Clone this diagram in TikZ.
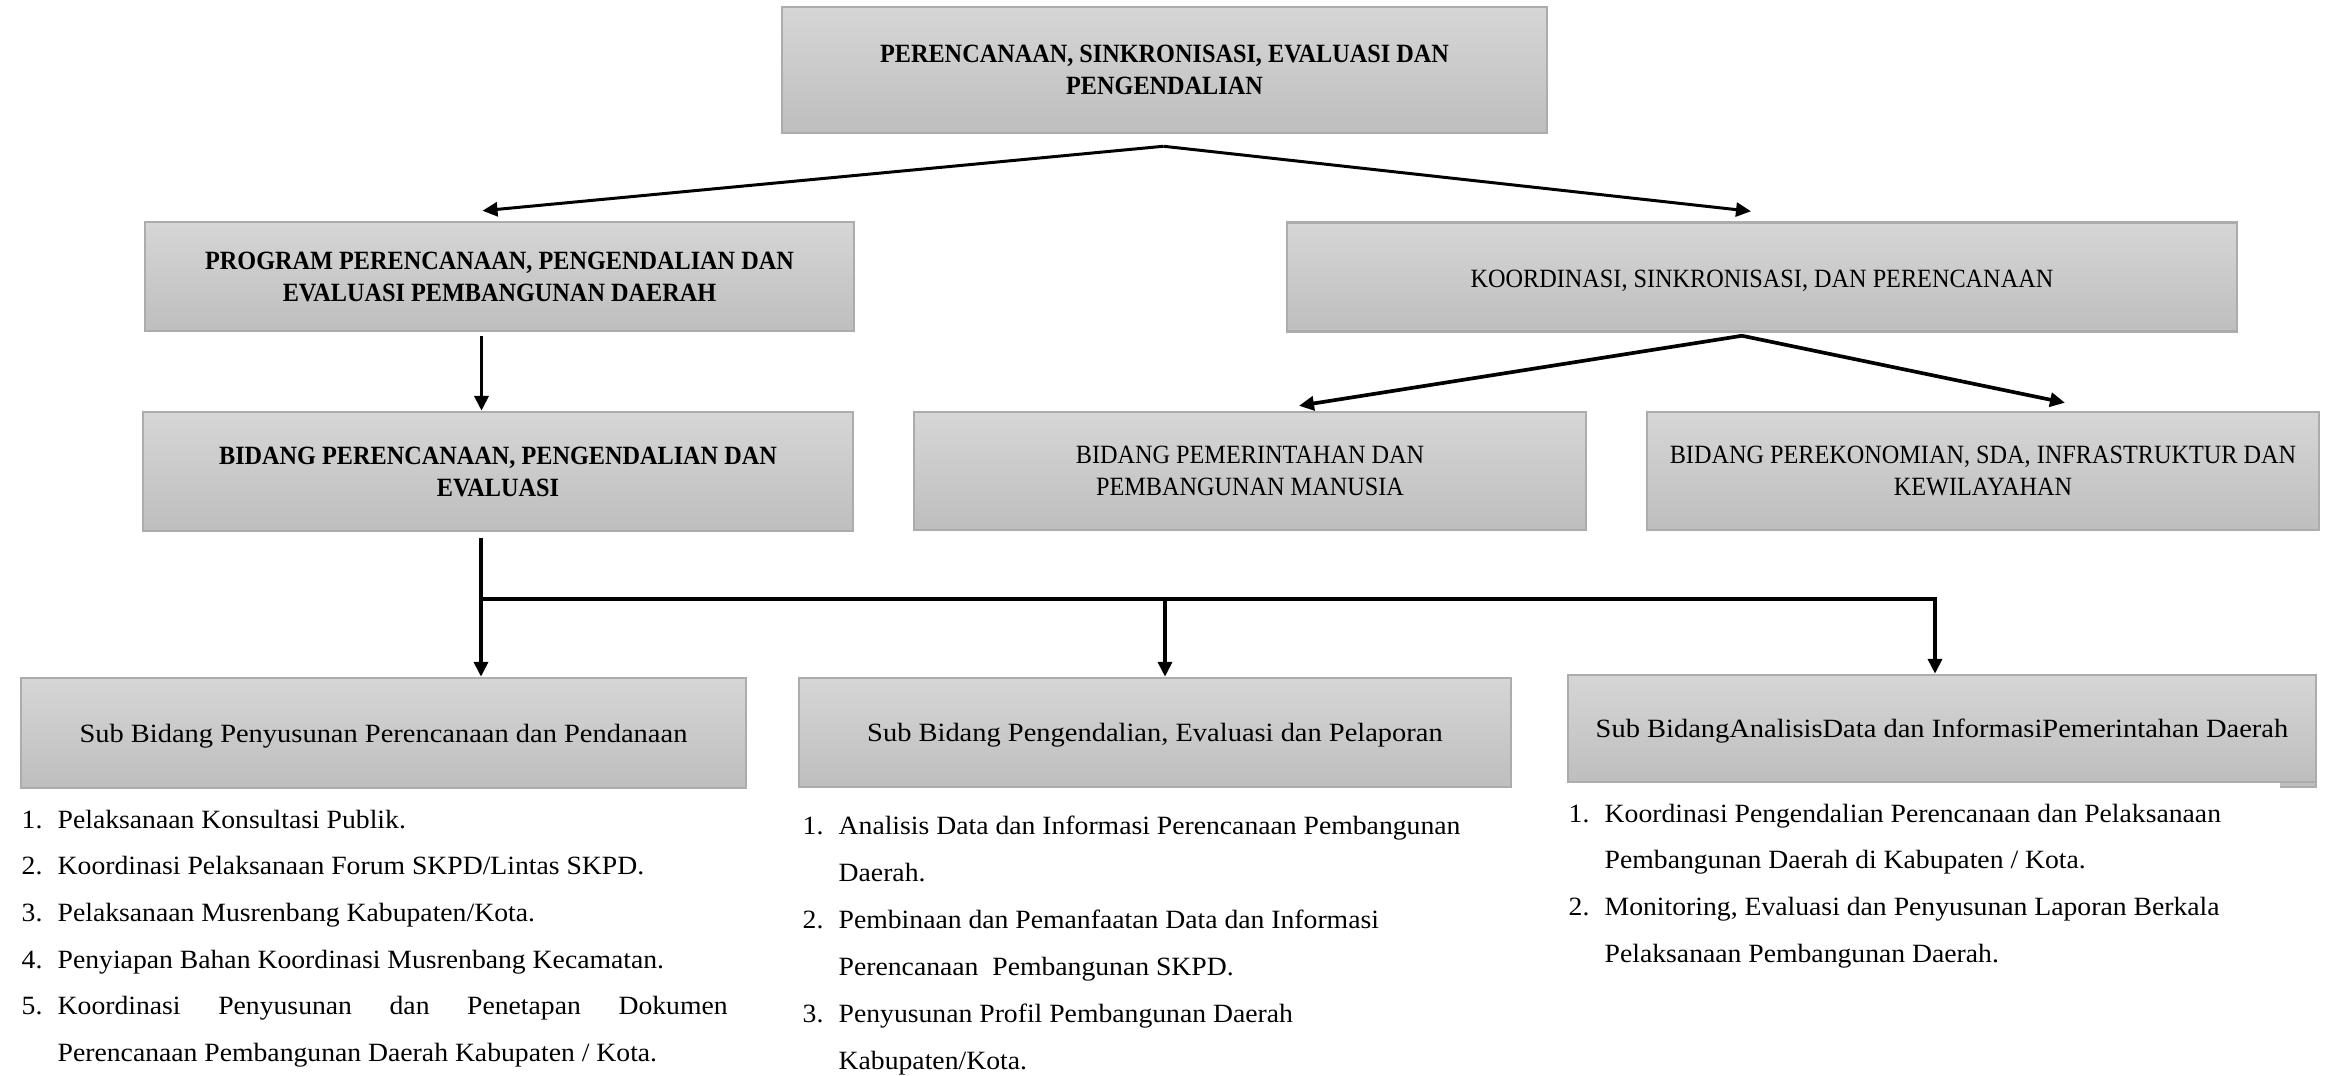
\documentclass[tikz,border=0pt]{standalone}
\usepackage{fontspec}
\setmainfont{Liberation Serif}
% caps titles run narrow, running text runs wide
\newfontfamily\capsface{Liberation Serif}[FakeStretch=0.92]
\newfontfamily\textface{Liberation Serif}[FakeStretch=1.08]
\newfontfamily\listface{Liberation Serif}[FakeStretch=1.05]
\usetikzlibrary{arrows.meta,calc}

\newcommand\itemno[1]{\makebox[3.6mm][l]{#1}}
\newcommand\itemcont{\hspace*{3.6mm}}

\definecolor{boxedge}{RGB}{172,172,172}
\definecolor{boxtop}{RGB}{214,214,214}
\definecolor{boxbottom}{RGB}{190,190,190}

\begin{document}
\begin{tikzpicture}[x=0.1mm,y=-0.1mm,
  box/.style={draw=boxedge, line width=0.25mm,
    top color=boxtop, bottom color=boxbottom,
    inner sep=0pt, align=center,
    execute at begin node={\rule{0pt}{7pt}}},
  capreg/.style={box, font=\capsface\fontsize{7.5}{9.1}\selectfont},
  capbold/.style={box, font=\capsface\bfseries\fontsize{7.5}{9.1}\selectfont},
  subbox/.style={box, font=\textface\fontsize{7.5}{9.1}\selectfont},
  listnode/.style={inner sep=0pt, anchor=base west},
  arr/.style={line width=0.85pt, -{Triangle[length=1.5mm,width=1.4mm]}},
  arrthick/.style={line width=1.05pt, -{Triangle[length=1.5mm,width=1.4mm]}},
  busline/.style={line width=1.05pt}]

\useasboundingbox (0,0) rectangle (2341,1075);

% level 0
\node[capbold, minimum width=76.5mm, minimum height=12.6mm] (top) at (1164.5,70)
  {PERENCANAAN, SINKRONISASI, EVALUASI DAN\\PENGENDALIAN};

% level 1
\node[capbold, minimum width=70.9mm, minimum height=10.9mm] (prog) at (499.5,276.5)
  {PROGRAM PERENCANAAN, PENGENDALIAN DAN\\EVALUASI PEMBANGUNAN DAERAH};
\node[capreg, minimum width=95mm, minimum height=10.9mm] (koor) at (1762,277)
  {KOORDINASI, SINKRONISASI, DAN PERENCANAAN};

% level 2
\node[capbold, minimum width=71mm, minimum height=11.9mm] (bid) at (498,471.5)
  {BIDANG PERENCANAAN, PENGENDALIAN DAN\\EVALUASI};
\node[capreg, minimum width=67.2mm, minimum height=11.8mm] (pem) at (1250,471)
  {BIDANG PEMERINTAHAN DAN\\PEMBANGUNAN MANUSIA};
\node[capreg, minimum width=67.2mm, minimum height=11.8mm] (eko) at (1983,471)
  {BIDANG PEREKONOMIAN, SDA, INFRASTRUKTUR DAN\\KEWILAYAHAN};

% level 3
\node[subbox, minimum width=72.5mm, minimum height=11mm] (sub1) at (383.5,733)
  {Sub Bidang Penyusunan Perencanaan dan Pendanaan};
\node[subbox, minimum width=71.2mm, minimum height=10.9mm] (sub2) at (1155,732.5)
  {Sub Bidang Pengendalian, Evaluasi dan Pelaporan};
% small step under the right end of the third box
\fill[boxbottom] (2280,780) rectangle (2316,787);
\draw[boxedge, line width=0.25mm] (2280,787) -- (2316,787) -- (2316,780);
\node[subbox, minimum width=74.8mm, minimum height=10.7mm] (sub3) at (1942,728.5)
  {Sub BidangAnalisisData dan InformasiPemerintahan Daerah};

% task lists
\node[listnode, font=\listface\fontsize{7.5}{13.3}\selectfont] (list1) at (21,828)
  {\begin{tabular}[t]{@{}l@{}}
   \itemno{1.}Pelaksanaan Konsultasi Publik.\\
   \itemno{2.}Koordinasi Pelaksanaan Forum SKPD/Lintas SKPD.\\
   \itemno{3.}Pelaksanaan Musrenbang Kabupaten/Kota.\\
   \itemno{4.}Penyiapan Bahan Koordinasi Musrenbang Kecamatan.\\
   \itemno{5.}\makebox[67mm][s]{Koordinasi Penyusunan dan Penetapan Dokumen}\\
   \itemcont Perencanaan Pembangunan Daerah Kabupaten / Kota.
   \end{tabular}};
\node[listnode, font=\listface\fontsize{7.5}{13.4}\selectfont] (list2) at (802,834)
  {\begin{tabular}[t]{@{}l@{}}
   \itemno{1.}Analisis Data dan Informasi Perencanaan Pembangunan\\
   \itemcont Daerah.\\
   \itemno{2.}Pembinaan dan Pemanfaatan Data dan Informasi\\
   \itemcont Perencanaan~ Pembangunan SKPD.\\
   \itemno{3.}Penyusunan Profil Pembangunan Daerah\\
   \itemcont Kabupaten/Kota.
   \end{tabular}};
\node[listnode, font=\listface\fontsize{7.5}{13.3}\selectfont] (list3) at (1568,822)
  {\begin{tabular}[t]{@{}l@{}}
   \itemno{1.}Koordinasi Pengendalian Perencanaan dan Pelaksanaan\\
   \itemcont Pembangunan Daerah di Kabupaten / Kota.\\
   \itemno{2.}Monitoring, Evaluasi dan Penyusunan Laporan Berkala\\
   \itemcont Pelaksanaan Pembangunan Daerah.
   \end{tabular}};

% connectors: top to level 1
\coordinate (topfork) at ($(top.south)+(-1,12)$);
\coordinate (progin) at ($(prog.north)+(-17,-10)$);
\coordinate (koorin) at ($(koor.north)+(-11,-10)$);
\draw[arr] (topfork) -- (progin);
\draw[arr] (topfork) -- (koorin);

% program to bidang
\coordinate (progout) at ($(prog.south)+(-18,4)$);
\draw[arrthick] (progout) -- (progout |- bid.north);

% koordinasi fork
\coordinate (koorfork) at ($(koor.south)+(-20,3)$);
\coordinate (pemin) at ($(pem.north)+(49,-5)$);
\coordinate (ekoin) at ($(eko.north)+(82,-8)$);
\draw[arrthick] (koorfork) -- (pemin);
\draw[arrthick] (koorfork) -- (ekoin);

% bidang to the three sub-bidang
\coordinate (bidout) at ($(bid.south)+(-17,6)$);
\coordinate (busL) at (481,599);
\coordinate (busM) at (1165,599);
\coordinate (busR) at (1935,599);
\draw[arrthick] (bidout) -- (bidout |- sub1.north);
\draw[busline] (busL) -- (busR);
\draw[arrthick] (busM) -- (busM |- sub2.north);
\draw[arrthick] ([yshift=0.5pt]busR) -- (busR |- sub3.north);

\end{tikzpicture}
\end{document}
